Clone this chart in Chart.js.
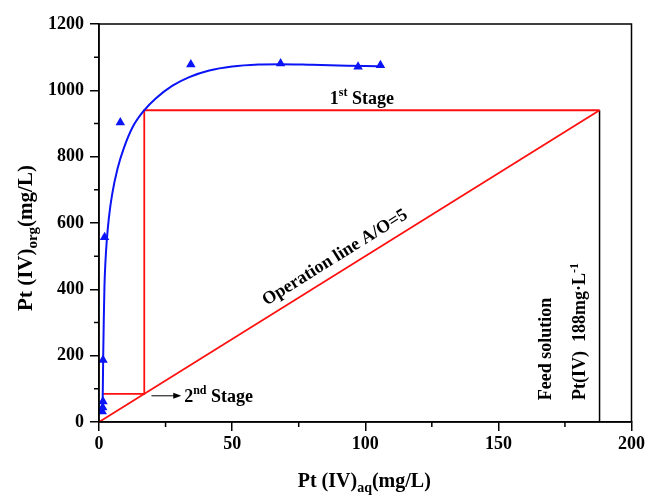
<!DOCTYPE html>
<html>
<head>
<meta charset="utf-8">
<script src="https://cdn.jsdelivr.net/npm/chart.js@4.4.1/dist/chart.umd.min.js"></script>
<style>
  html, body { margin: 0; padding: 0; background: #fff; }
  #wrap { width: 648px; height: 496px; }
</style>
</head>
<body>
<div id="wrap"><canvas id="isoChart" width="648" height="496"></canvas></div>
<script>
// fitted extraction isotherm, Pt(IV) aq vs org (mg/L)
const fitX = [1.3, 1.45, 1.6, 1.8, 2.05, 2.4, 2.9, 3.7, 4.9, 7.0, 9.3, 12.7, 16.8, 21.4, 27.6, 33.9, 41.4, 50, 60, 68, 80, 90, 100, 107];
const fitY = [30, 110, 210, 310, 410, 480, 545, 615, 685, 765, 825, 890, 938, 976, 1014, 1040, 1060, 1072, 1078, 1079, 1077, 1075, 1073, 1072];

// measured equilibrium points
const expX = [1.2, 1.4, 1.5, 1.5, 2.1, 8.0, 34.5, 68.2, 97.3, 105.7];
const expY = [32, 44, 62, 187, 557, 903, 1078, 1081, 1071, 1076];

// operation line A/O = 5 and McCabe-Thiele steps
const opX = [0, 188];
const opY = [0, 940];
const stageX = [1.45, 17, 17, 188];
const stageY = [85, 85, 940, 940];
const feedX = [188, 188];
const feedY = [0, 940];

const xTicks = [0, 50, 100, 150, 200];
const yTicks = [0, 200, 400, 600, 800, 1000, 1200];
const xMinor = [25, 75, 125, 175];
const yMinor = [100, 300, 500, 700, 900, 1100];

const FONT = '"Liberation Serif", "Times New Roman", serif';
const BLUE = '#0a14f5';
const RED = '#ff1010';

function pts(xs, ys) {
    return xs.map(function (x, i) { return { x: x, y: ys[i] }; });
}

function setFont(ctx, size) {
    ctx.font = 'bold ' + size + 'px ' + FONT;
}

// text made of runs with sub/superscripts
function drawRich(ctx, parts, x, y, angle, center) {
    ctx.save();
    ctx.translate(x, y);
    ctx.rotate(angle);
    let w = 0;
    parts.forEach(function (p) { setFont(ctx, p.size); w += ctx.measureText(p.text).width; });
    let cx = center ? -w / 2 : 0;
    ctx.textAlign = 'left';
    ctx.textBaseline = 'alphabetic';
    ctx.fillStyle = '#000';
    parts.forEach(function (p) {
        setFont(ctx, p.size);
        ctx.fillText(p.text, cx, p.dy || 0);
        cx += ctx.measureText(p.text).width;
    });
    ctx.restore();
}

const decorations = {
    id: 'decorations',
    afterDraw: function (chart) {
        const ctx = chart.ctx;
        const a = chart.chartArea;
        const xs = chart.scales.x;
        const ys = chart.scales.y;
        const px = function (v) { return xs.getPixelForValue(v); };
        const py = function (v) { return ys.getPixelForValue(v); };

        ctx.save();
        ctx.strokeStyle = '#000';
        ctx.lineWidth = 1.5;
        // frame
        ctx.strokeRect(a.left, a.top, a.right - a.left, a.bottom - a.top);
        // minor ticks
        ctx.beginPath();
        xMinor.forEach(function (v) {
            ctx.moveTo(px(v), a.bottom);
            ctx.lineTo(px(v), a.bottom + 5);
        });
        yMinor.forEach(function (v) {
            ctx.moveTo(a.left, py(v));
            ctx.lineTo(a.left - 5, py(v));
        });
        ctx.stroke();

        // arrow to 2nd stage
        const ax0 = px(19.7), ax1 = px(30.9), ay = py(79);
        ctx.lineWidth = 1;
        ctx.beginPath();
        ctx.moveTo(ax0, ay);
        ctx.lineTo(ax1 - 6, ay);
        ctx.stroke();
        ctx.fillStyle = '#000';
        ctx.beginPath();
        ctx.moveTo(ax1, ay);
        ctx.lineTo(ax1 - 8, ay - 3);
        ctx.lineTo(ax1 - 8, ay + 3);
        ctx.closePath();
        ctx.fill();
        ctx.restore();

        // stage labels
        drawRich(ctx, [
            { text: '1', size: 18 },
            { text: 'st', size: 12, dy: -8 },
            { text: ' Stage', size: 18 }
        ], px(86.7), py(960), 0, false);
        drawRich(ctx, [
            { text: '2', size: 18 },
            { text: 'nd', size: 12, dy: -8 },
            { text: ' Stage', size: 18 }
        ], px(32), py(60), 0, false);

        // operation line label, along the line
        const ang = Math.atan2(py(opY[1]) - py(opY[0]), px(opX[1]) - px(opX[0]));
        const lx = px(91.6), ly = py(91.6 * opY[1] / opX[1]);
        const off = 10;
        drawRich(ctx, [{ text: 'Operation line A/O=5', size: 18 }],
            lx + Math.sin(ang) * off, ly - Math.cos(ang) * off, ang, true);

        // feed solution note
        drawRich(ctx, [{ text: 'Feed solution', size: 18 }], px(169.7), py(220), -Math.PI / 2, true);
        drawRich(ctx, [
            { text: 'Pt(IV)  188mg\u00b7L', size: 18 },
            { text: '-1', size: 12, dy: -7 }
        ], px(182.6), py(273), -Math.PI / 2, true);

        // axis titles
        drawRich(ctx, [
            { text: 'Pt (IV)', size: 20 },
            { text: 'aq', size: 14, dy: 5 },
            { text: '(mg/L)', size: 20 }
        ], (a.left + a.right) / 2 - 1, 486.5, 0, true);
        drawRich(ctx, [
            { text: 'Pt (IV)', size: 21 },
            { text: 'org', size: 15, dy: 5 },
            { text: '(mg/L)', size: 21 }
        ], 32, 238, -Math.PI / 2, true);
    }
};

const axisStyle = {
    border: { display: true, color: '#000', width: 1.5 },
    grid: { drawOnChartArea: false, drawTicks: true, tickLength: 9, color: '#000', lineWidth: 1.5 },
    ticks: {
        color: '#000',
        font: { family: FONT, size: 18, weight: 'bold' },
        callback: function (v) { return String(v); }
    }
};

new Chart(document.getElementById('isoChart'), {
    type: 'scatter',
    data: {
        datasets: [
            {
                label: 'Experimental',
                data: pts(expX, expY),
                showLine: false,
                pointStyle: 'triangle',
                pointRadius: 5.5,
                pointBackgroundColor: BLUE,
                pointBorderColor: BLUE,
                pointBorderWidth: 0,
                order: 0
            },
            {
                label: 'Fit',
                data: pts(fitX, fitY),
                showLine: true,
                cubicInterpolationMode: 'monotone',
                borderColor: BLUE,
                borderWidth: 2,
                pointRadius: 0,
                order: 1
            },
            {
                label: 'Steps',
                data: pts(stageX, stageY),
                showLine: true,
                borderColor: RED,
                borderWidth: 1.8,
                pointRadius: 0,
                order: 2
            },
            {
                label: 'Operation line',
                data: pts(opX, opY),
                showLine: true,
                borderColor: RED,
                borderWidth: 1.8,
                pointRadius: 0,
                order: 3
            },
            {
                label: 'Feed',
                data: pts(feedX, feedY),
                showLine: true,
                borderColor: '#000',
                borderWidth: 1.5,
                pointRadius: 0,
                order: 4
            }
        ]
    },
    options: {
        responsive: false,
        animation: false,
        layout: { padding: { left: 0, right: 15, top: 24, bottom: 0 } },
        plugins: {
            legend: { display: false },
            tooltip: { enabled: false }
        },
        scales: {
            x: Object.assign({}, axisStyle, {
                type: 'linear',
                min: 0,
                max: 200,
                ticks: Object.assign({}, axisStyle.ticks, { padding: 3 }),
                afterBuildTicks: function (s) { s.ticks = xTicks.map(function (v) { return { value: v }; }); },
                afterFit: function (s) { s.height = 74; }
            }),
            y: Object.assign({}, axisStyle, {
                type: 'linear',
                min: 0,
                max: 1200,
                ticks: Object.assign({}, axisStyle.ticks, { padding: 6 }),
                afterBuildTicks: function (s) { s.ticks = yTicks.map(function (v) { return { value: v }; }); },
                afterFit: function (s) { s.width = 99; }
            })
        }
    },
    plugins: [decorations]
});
</script>
</body>
</html>
